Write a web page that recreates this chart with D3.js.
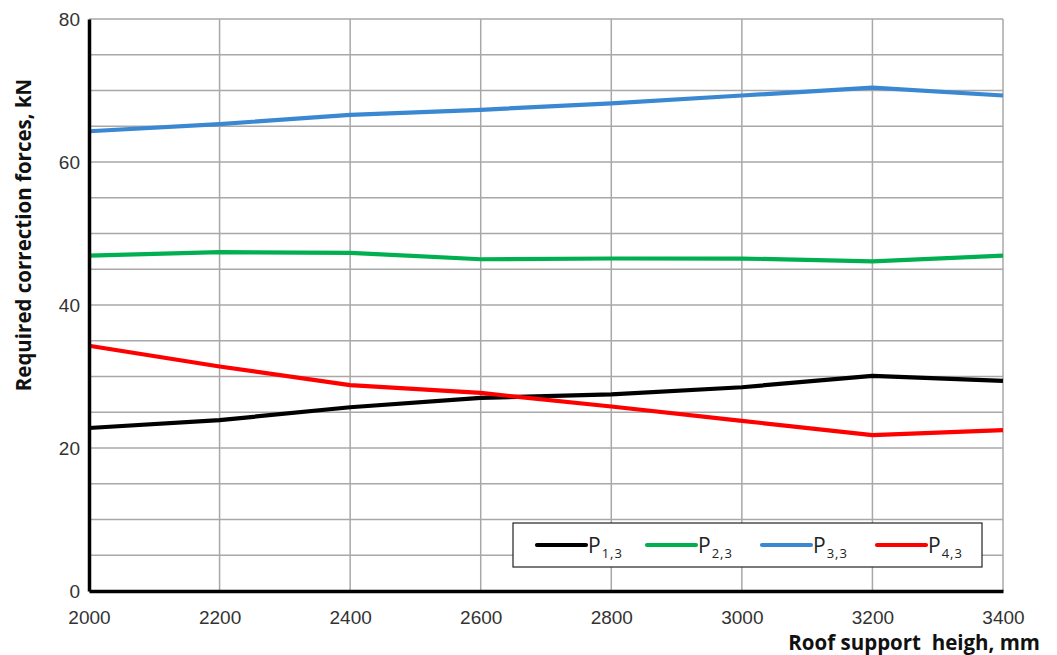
<!DOCTYPE html>
<html>
<head>
<meta charset="utf-8">
<script src="https://cdn.jsdelivr.net/npm/d3@7"></script>
<style>
  html, body { margin: 0; padding: 0; background: #fff; }
  svg { display: block; font-family: "Open Sans", "Noto Sans", sans-serif; }
</style>
</head>
<body>
<svg id="chart" width="1057" height="655"></svg>
<script>
// Roof support height (mm)
const heights = [2000, 2200, 2400, 2600, 2800, 3000, 3200, 3400];

// Required correction forces (kN) per force component
const p13 = [22.8, 23.9, 25.7, 27.0, 27.5, 28.5, 30.1, 29.4];
const p23 = [46.9, 47.4, 47.3, 46.4, 46.5, 46.5, 46.1, 46.9];
const p33 = [64.3, 65.3, 66.6, 67.3, 68.2, 69.3, 70.4, 69.3];
const p43 = [34.3, 31.4, 28.8, 27.7, 25.8, 23.8, 21.8, 22.5];

const seriesNames = ["1,3", "2,3", "3,3", "4,3"];
const seriesColors = ["#000000", "#00b050", "#3a88d2", "#ff0000"];
const seriesValues = [p13, p23, p33, p43];

const xTicks = [2000, 2200, 2400, 2600, 2800, 3000, 3200, 3400];
const yTicks = [0, 20, 40, 60, 80];
const yGrid = d3.range(0, 85, 5);

const svg = d3.select("#chart");
const plot = { left: 89, right: 1003, top: 19, bottom: 591 };

const x = d3.scaleLinear().domain([2000, 3400]).range([plot.left, plot.right]);
const y = d3.scaleLinear().domain([0, 80]).range([plot.bottom, plot.top]);

// grid
const grid = svg.append("g");
grid.selectAll("line.h").data(yGrid).join("line")
  .attr("x1", plot.left).attr("x2", plot.right)
  .attr("y1", d => y(d)).attr("y2", d => y(d))
  .attr("stroke", "#a8a8a8").attr("stroke-width", 1.5);
grid.selectAll("line.v").data(xTicks.slice(1)).join("line")
  .attr("x1", d => x(d)).attr("x2", d => x(d))
  .attr("y1", plot.top).attr("y2", plot.bottom)
  .attr("stroke", "#a8a8a8").attr("stroke-width", 1.5);

// series lines
const line = d3.line().x((d, i) => x(heights[i])).y(d => y(d));
svg.append("g").selectAll("path").data(seriesValues).join("path")
  .attr("d", line)
  .attr("fill", "none")
  .attr("stroke", (d, i) => seriesColors[i])
  .attr("stroke-width", 4.2)
  .attr("stroke-linejoin", "round");

// axes
const xAxis = svg.append("g").attr("transform", `translate(0,${plot.bottom})`)
  .call(d3.axisBottom(x).tickValues(xTicks).tickSize(0).tickPadding(20).tickFormat(d3.format("d")));
xAxis.select(".domain").attr("stroke", "#000").attr("stroke-width", 3.5);
xAxis.selectAll("text").attr("font-size", 19).attr("fill", "#333");

const yAxis = svg.append("g").attr("transform", `translate(${plot.left},0)`)
  .call(d3.axisLeft(y).tickValues(yTicks).tickSize(0).tickPadding(9));
yAxis.select(".domain").attr("stroke", "#000").attr("stroke-width", 3.5);
yAxis.selectAll("text").attr("font-size", 19).attr("fill", "#333");

// axis titles
svg.append("text")
  .attr("x", 1040).attr("y", 650)
  .attr("text-anchor", "end")
  .attr("font-size", 20.5).attr("font-weight", "bold").attr("fill", "#111")
  .attr("xml:space", "preserve")
  .text("Roof support  heigh, mm");

svg.append("text")
  .attr("transform", "translate(31,235) rotate(-90)")
  .attr("text-anchor", "middle")
  .attr("font-size", 20.5).attr("font-weight", "bold").attr("fill", "#111")
  .text("Required correction forces, kN");

// legend
const legend = svg.append("g");
legend.append("rect")
  .attr("x", 513).attr("y", 523).attr("width", 469).attr("height", 44)
  .attr("fill", "#fff").attr("stroke", "#222").attr("stroke-width", 1.2);

const legendX = [537, 647, 762, 877];
seriesNames.forEach((name, i) => {
  const g = legend.append("g").attr("transform", `translate(${legendX[i]},545)`);
  g.append("line").attr("x1", 0).attr("x2", 49).attr("y1", 0).attr("y2", 0)
    .attr("stroke", seriesColors[i]).attr("stroke-width", 4.2).attr("stroke-linecap", "round");
  const t = g.append("text").attr("x", 51).attr("y", 8)
    .attr("font-size", 21).attr("fill", "#222");
  t.append("tspan").text("P");
  t.append("tspan").attr("font-size", 13).attr("dy", 5).attr("dx", 1)
    .attr("letter-spacing", 1).text(name);
});
</script>
</body>
</html>
